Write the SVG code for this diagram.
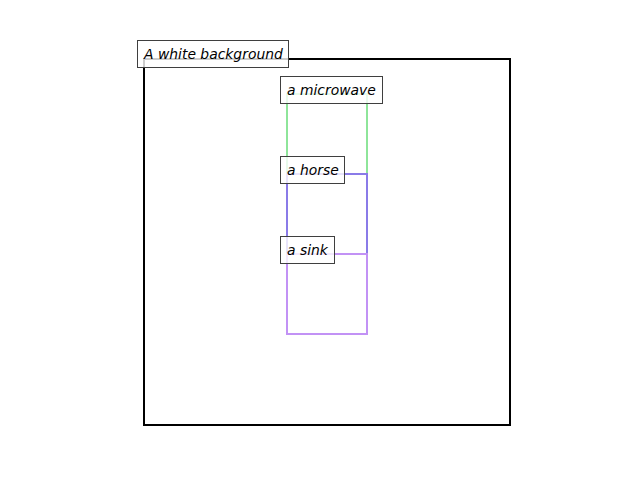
<svg xmlns="http://www.w3.org/2000/svg" width="640" height="480" viewBox="0 0 640 480">
<style>
.box{fill:none;stroke-width:2}
.lbl rect{fill:#ffffff;fill-opacity:0.8;stroke:#3f3f3f;stroke-width:1}
.lbl text{font-family:"DejaVu Sans",sans-serif;font-style:oblique;font-size:13.9px;fill:#000}
</style>
<rect width="640" height="480" fill="#ffffff"/>
<g id="background">
<rect class="box" x="144" y="59" width="366" height="366" stroke="#000000"/>
</g>
<g id="microwave">
<rect class="box" x="287" y="94" width="80" height="80" stroke="#8ee59a"/>
</g>
<g id="horse">
<rect class="box" x="287" y="174" width="80" height="80" stroke="#8a7be8"/>
</g>
<g id="sink">
<rect class="box" x="287" y="254" width="80" height="80" stroke="#c292f5"/>
</g>
<g id="connectors"></g>
<g id="label-background" class="lbl">
<rect x="137.5" y="40.5" width="151" height="27"/>
<text x="144" y="58.5">A white background</text>
</g>
<g id="label-microwave" class="lbl">
<rect x="280.5" y="76.5" width="102" height="27"/>
<text x="287" y="94.5">a microwave</text>
</g>
<g id="label-horse" class="lbl">
<rect x="280.5" y="156.5" width="64" height="27"/>
<text x="287" y="174.5">a horse</text>
</g>
<g id="label-sink" class="lbl">
<rect x="280.5" y="236.5" width="54" height="27"/>
<text x="287" y="254.5">a sink</text>
</g>
</svg>
